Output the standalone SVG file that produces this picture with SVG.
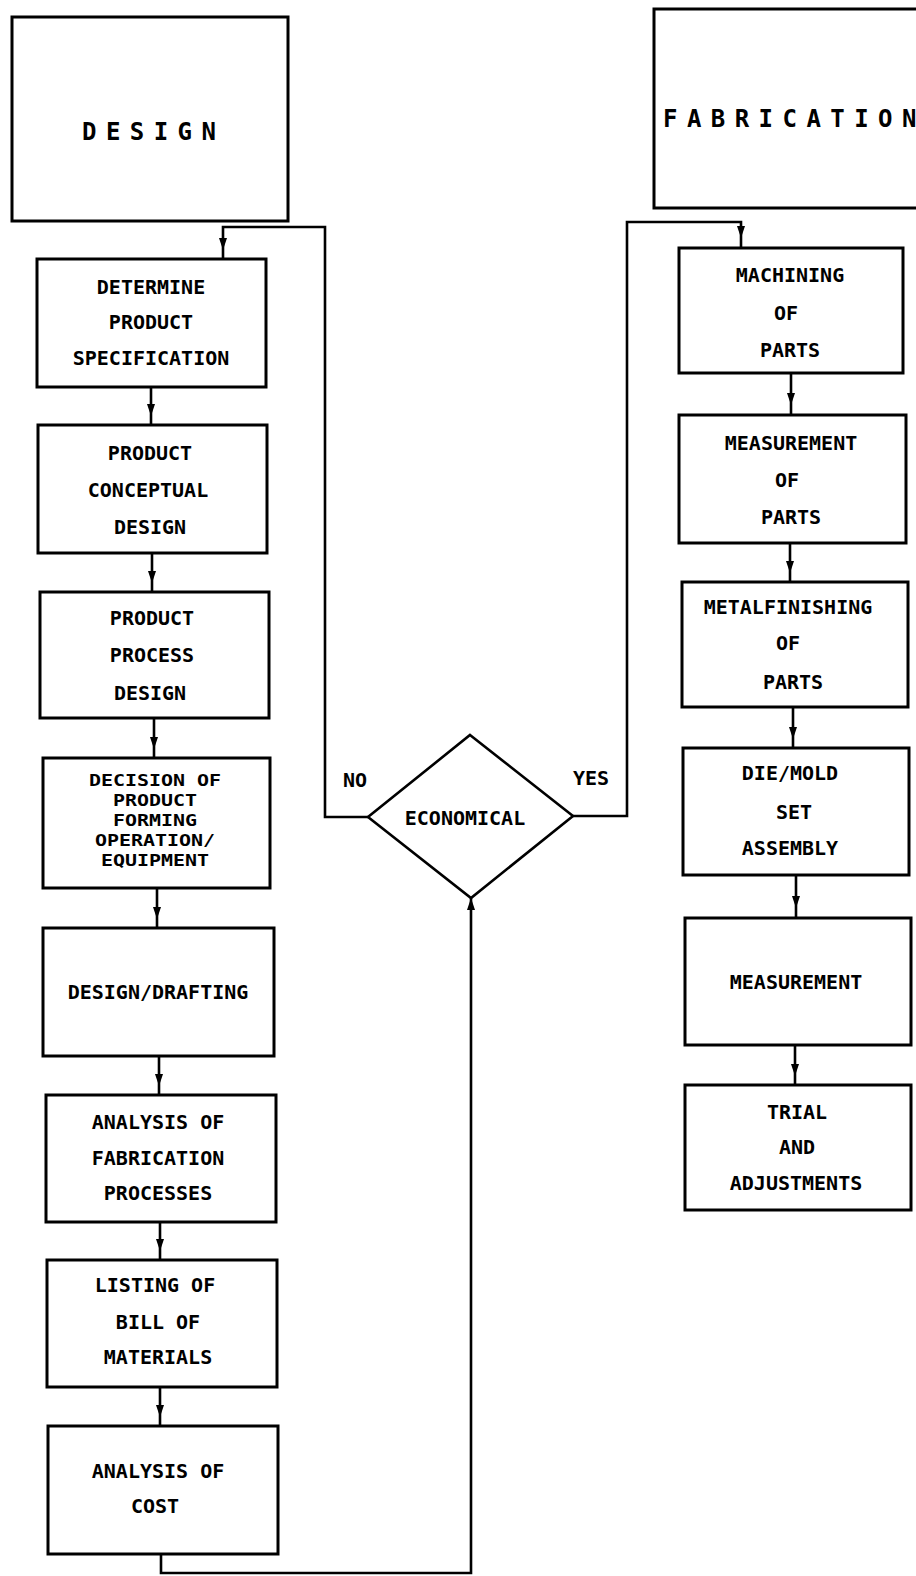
<svg xmlns="http://www.w3.org/2000/svg" width="916" height="1576" viewBox="0 0 916 1576">
<style>
.bx{fill:#fff;stroke:#000;stroke-width:3}
.t{font-family:"DejaVu Sans Mono","Liberation Mono",monospace;font-weight:bold;font-size:20px;fill:#000;text-anchor:middle}
.ts{font-family:"DejaVu Sans Mono","Liberation Mono",monospace;font-weight:bold;font-size:16px;fill:#000;text-anchor:middle}
.tt{font-family:"DejaVu Sans Mono","Liberation Mono",monospace;font-weight:bold;font-size:24px;fill:#000;letter-spacing:-2.5px}
.c{fill:none;stroke:#000;stroke-width:2.6}
.a{marker-mid:url(#ah)}
.e{marker-end:url(#ah)}
</style>
<defs>
<marker id="ah" markerUnits="userSpaceOnUse" markerWidth="12" markerHeight="8" refX="12" refY="4" orient="auto" viewBox="0 0 12 8">
<path d="M0,0 L12,4 L0,8 z" fill="#000"/>
</marker>
</defs>
<rect width="916" height="1576" fill="#fff"/>
<g id="connectors">
<path class="c a" d="M151 387 L151 416 L151 425"/>
<path class="c a" d="M152 553 L152 583 L152 592"/>
<path class="c a" d="M154 718 L154 749 L154 758"/>
<path class="c a" d="M157 888 L157 919 L157 928"/>
<path class="c a" d="M159 1056 L159 1086 L159 1095"/>
<path class="c a" d="M160 1222 L160 1251 L160 1260"/>
<path class="c a" d="M160 1387 L160 1417 L160 1426"/>
<path class="c e" d="M161 1554 L161 1573 L471 1573 L471 898"/>
<path class="c e" d="M368 817 L325 817 L325 227 L223 227 L223 250"/>
<path class="c" d="M223 250 L223 259"/>
<path class="c e" d="M573 816 L627 816 L627 222 L741 222 L741 238"/>
<path class="c" d="M741 238 L741 248"/>
<path class="c a" d="M791 373 L791 405 L791 415"/>
<path class="c a" d="M790 543 L790 573 L790 582"/>
<path class="c a" d="M793 707 L793 739 L793 748"/>
<path class="c a" d="M796 875 L796 908 L796 918"/>
<path class="c a" d="M795 1045 L795 1076 L795 1085"/>
</g>
<g id="design">
<rect class="bx" x="12" y="17" width="276" height="204"/>
<text class="tt" x="82" y="140">D E S I G N</text>
</g>
<g id="fabrication">
<rect class="bx" x="654" y="9" width="276" height="199"/>
<text class="tt" x="663" y="127">F A B R I C A T I O N</text>
</g>
<g id="determine">
<rect class="bx" x="37" y="259" width="229" height="128"/>
<text class="t" x="151" y="294">DETERMINE</text>
<text class="t" x="151" y="329">PRODUCT</text>
<text class="t" x="151" y="365">SPECIFICATION</text>
</g>
<g id="conceptual">
<rect class="bx" x="38" y="425" width="229" height="128"/>
<text class="t" x="150" y="460">PRODUCT</text>
<text class="t" x="148" y="497">CONCEPTUAL</text>
<text class="t" x="150" y="534">DESIGN</text>
</g>
<g id="process">
<rect class="bx" x="40" y="592" width="229" height="126"/>
<text class="t" x="152" y="625">PRODUCT</text>
<text class="t" x="152" y="662">PROCESS</text>
<text class="t" x="150" y="700">DESIGN</text>
</g>
<g id="decision">
<rect class="bx" x="43" y="758" width="227" height="130"/>
<text class="ts" x="155" y="786" textLength="132" lengthAdjust="spacingAndGlyphs">DECISION OF</text>
<text class="ts" x="155" y="806" textLength="84" lengthAdjust="spacingAndGlyphs">PRODUCT</text>
<text class="ts" x="155" y="826" textLength="84" lengthAdjust="spacingAndGlyphs">FORMING</text>
<text class="ts" x="155" y="846" textLength="120" lengthAdjust="spacingAndGlyphs">OPERATION/</text>
<text class="ts" x="155" y="866" textLength="108" lengthAdjust="spacingAndGlyphs">EQUIPMENT</text>
</g>
<g id="drafting">
<rect class="bx" x="43" y="928" width="231" height="128"/>
<text class="t" x="158" y="999">DESIGN/DRAFTING</text>
</g>
<g id="analysis-fab">
<rect class="bx" x="46" y="1095" width="230" height="127"/>
<text class="t" x="158" y="1129">ANALYSIS OF</text>
<text class="t" x="158" y="1165">FABRICATION</text>
<text class="t" x="158" y="1200">PROCESSES</text>
</g>
<g id="listing">
<rect class="bx" x="47" y="1260" width="230" height="127"/>
<text class="t" x="155" y="1292">LISTING OF</text>
<text class="t" x="158" y="1329">BILL OF</text>
<text class="t" x="158" y="1364">MATERIALS</text>
</g>
<g id="analysis-cost">
<rect class="bx" x="48" y="1426" width="230" height="128"/>
<text class="t" x="158" y="1478">ANALYSIS OF</text>
<text class="t" x="155" y="1513">COST</text>
</g>
<g id="economical">
<polygon points="470,735 573,816 471,898 368,817" fill="#fff" stroke="#000" stroke-width="2.6"/>
<text class="t" x="465" y="825">ECONOMICAL</text>
</g>
<g id="labels">
<text class="t" x="355" y="787">NO</text>
<text class="t" x="591" y="785">YES</text>
</g>
<g id="machining">
<rect class="bx" x="679" y="248" width="224" height="125"/>
<text class="t" x="790" y="282">MACHINING</text>
<text class="t" x="786" y="320">OF</text>
<text class="t" x="790" y="357">PARTS</text>
</g>
<g id="measurement-parts">
<rect class="bx" x="679" y="415" width="227" height="128"/>
<text class="t" x="791" y="450">MEASUREMENT</text>
<text class="t" x="787" y="487">OF</text>
<text class="t" x="791" y="524">PARTS</text>
</g>
<g id="metalfinishing">
<rect class="bx" x="682" y="582" width="226" height="125"/>
<text class="t" x="788" y="614">METALFINISHING</text>
<text class="t" x="788" y="650">OF</text>
<text class="t" x="793" y="689">PARTS</text>
</g>
<g id="die-mold">
<rect class="bx" x="683" y="748" width="226" height="127"/>
<text class="t" x="790" y="780">DIE/MOLD</text>
<text class="t" x="794" y="819">SET</text>
<text class="t" x="790" y="855">ASSEMBLY</text>
</g>
<g id="measurement">
<rect class="bx" x="685" y="918" width="226" height="127"/>
<text class="t" x="796" y="989">MEASUREMENT</text>
</g>
<g id="trial">
<rect class="bx" x="685" y="1085" width="226" height="125"/>
<text class="t" x="797" y="1119">TRIAL</text>
<text class="t" x="797" y="1154">AND</text>
<text class="t" x="796" y="1190">ADJUSTMENTS</text>
</g>
</svg>
